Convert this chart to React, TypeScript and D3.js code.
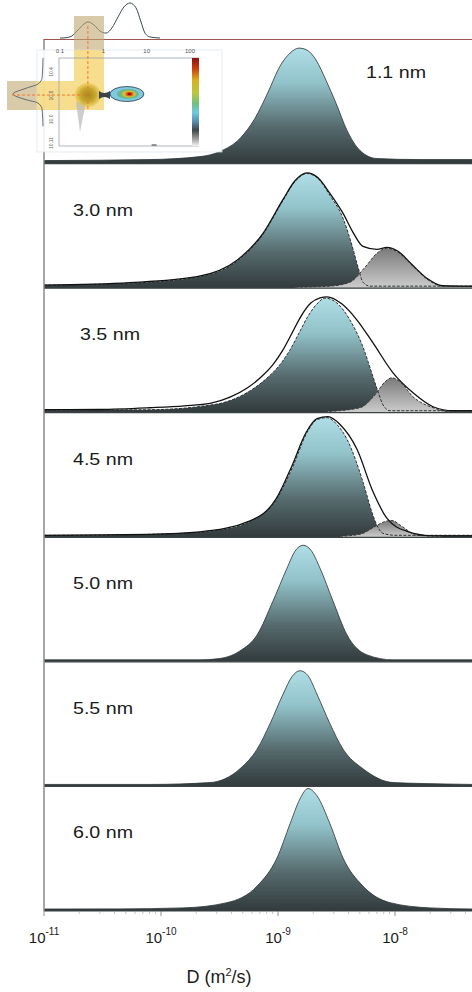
import React from "react";
import * as d3 from "d3";

// panel labels (particle size), top to bottom
const sizes = ["1.1 nm", "3.0 nm", "3.5 nm", "4.5 nm", "5.0 nm", "5.5 nm", "6.0 nm"];

// [log10 D, relative intensity]
const p11 = [[-11, 0.024], [-10.094, 0.032], [-9.667, 0.056], [-9.496, 0.097], [-9.325, 0.202], [-9.197, 0.363], [-9.085, 0.573], [-8.983, 0.782], [-8.897, 0.887], [-8.821, 0.927], [-8.752, 0.911], [-8.675, 0.831], [-8.59, 0.669], [-8.504, 0.484], [-8.41, 0.266], [-8.299, 0.105], [-8.154, 0.04], [-7.786, 0.032], [-7.342, 0.032]];

const blue30 = [[-11, 0.024], [-10.265, 0.04], [-9.692, 0.088], [-9.35, 0.216], [-9.128, 0.432], [-8.957, 0.704], [-8.855, 0.856], [-8.752, 0.92], [-8.658, 0.88], [-8.556, 0.744], [-8.444, 0.56], [-8.368, 0.344], [-8.316, 0.168], [-8.274, 0.048], [-8.214, 0.016], [-7.342, 0.016]];
const gray30 = [[-8.85, 0.008], [-8.556, 0.016], [-8.385, 0.048], [-8.256, 0.168], [-8.154, 0.28], [-8.068, 0.32], [-7.974, 0.288], [-7.855, 0.184], [-7.726, 0.072], [-7.598, 0.016], [-7.342, 0.012]];
const fit30 = [[-11, 0.024], [-10.265, 0.044], [-9.692, 0.092], [-9.35, 0.224], [-9.128, 0.44], [-8.957, 0.712], [-8.855, 0.862], [-8.752, 0.925], [-8.658, 0.886], [-8.556, 0.76], [-8.444, 0.6], [-8.359, 0.448], [-8.274, 0.336], [-8.154, 0.312], [-8.068, 0.328], [-7.974, 0.296], [-7.855, 0.19], [-7.726, 0.078], [-7.598, 0.02], [-7.342, 0.016]];

const blue35 = [[-11, 0.02], [-10.094, 0.024], [-9.521, 0.07], [-9.35, 0.12], [-9.2, 0.2], [-9.08, 0.29], [-8.98, 0.39], [-8.9, 0.5], [-8.82, 0.64], [-8.74, 0.78], [-8.67, 0.87], [-8.598, 0.92], [-8.496, 0.88], [-8.385, 0.744], [-8.274, 0.528], [-8.188, 0.288], [-8.145, 0.168], [-8.103, 0.064], [-8.043, 0.016], [-7.342, 0.016]];
const gray35 = [[-8.6, 0.008], [-8.299, 0.04], [-8.171, 0.144], [-8.085, 0.248], [-8.026, 0.28], [-7.957, 0.248], [-7.846, 0.128], [-7.675, 0.04], [-7.53, 0.008], [-7.342, 0.008]];
const fit35 = [[-11, 0.024], [-10.521, 0.026], [-10.094, 0.04], [-9.8, 0.055], [-9.58, 0.075], [-9.41, 0.125], [-9.26, 0.2], [-9.14, 0.29], [-9.04, 0.39], [-8.96, 0.5], [-8.88, 0.64], [-8.8, 0.78], [-8.72, 0.88], [-8.64, 0.922], [-8.581, 0.93], [-8.453, 0.872], [-8.325, 0.744], [-8.188, 0.56], [-8.017, 0.32], [-7.846, 0.16], [-7.675, 0.048], [-7.504, 0.016], [-7.342, 0.016]];

const blue45 = [[-11, 0.016], [-10.521, 0.016], [-10.094, 0.024], [-9.667, 0.04], [-9.521, 0.056], [-9.239, 0.127], [-9.009, 0.31], [-8.872, 0.571], [-8.752, 0.841], [-8.667, 0.944], [-8.581, 0.96], [-8.496, 0.905], [-8.41, 0.786], [-8.333, 0.611], [-8.274, 0.444], [-8.188, 0.175], [-8.154, 0.095], [-8.103, 0.032], [-8.0, 0.016], [-7.342, 0.016]];
const gray45 = [[-8.47, 0.008], [-8.299, 0.024], [-8.171, 0.087], [-8.085, 0.127], [-8.026, 0.135], [-7.94, 0.087], [-7.812, 0.016], [-7.6, 0.008]];
const fit45 = [[-11, 0.016], [-10.094, 0.024], [-9.667, 0.044], [-9.239, 0.132], [-9.015, 0.31], [-8.882, 0.571], [-8.76, 0.841], [-8.667, 0.952], [-8.573, 0.968], [-8.47, 0.905], [-8.325, 0.706], [-8.188, 0.365], [-8.068, 0.151], [-7.897, 0.048], [-7.675, 0.012], [-7.342, 0.012]];

const p50 = [[-11, 0.016], [-10.094, 0.016], [-9.667, 0.016], [-9.521, 0.024], [-9.325, 0.088], [-9.179, 0.216], [-9.043, 0.488], [-8.923, 0.752], [-8.855, 0.888], [-8.786, 0.936], [-8.718, 0.896], [-8.641, 0.752], [-8.53, 0.488], [-8.41, 0.216], [-8.239, 0.056], [-8.017, 0.016], [-7.342, 0.016]];
const p55 = [[-11, 0.016], [-10.094, 0.016], [-9.581, 0.031], [-9.325, 0.142], [-9.179, 0.299], [-9.068, 0.504], [-8.957, 0.74], [-8.88, 0.882], [-8.812, 0.929], [-8.744, 0.89], [-8.667, 0.74], [-8.556, 0.504], [-8.444, 0.299], [-8.274, 0.142], [-8.017, 0.031], [-7.786, 0.024], [-7.342, 0.016]];
const p60 = [[-11, 0.016], [-10.35, 0.017], [-9.812, 0.025], [-9.436, 0.067], [-9.179, 0.2], [-9.009, 0.425], [-8.897, 0.7], [-8.812, 0.9], [-8.744, 0.983], [-8.667, 0.925], [-8.556, 0.7], [-8.444, 0.425], [-8.274, 0.2], [-8.043, 0.067], [-7.701, 0.025], [-7.342, 0.016]];

const majorTicks = [1e-11, 1e-10, 1e-9, 1e-8];

// inset (2D DOSY map) bits
const insetTicks = [0.1, 1, 10, 100];
const insetYLabels = ["10.4", "10.8", "10.0", "10.11"];
const insetTop = [[0.1, 0], [0.111, 0], [0.17, 0.03], [0.26, 0.23], [0.358, 0.4], [0.443, 0.46], [0.61, 0.37], [0.838, 0.2], [1.15, 0.14], [1.58, 0.29], [2.18, 0.6], [3.0, 0.89], [4.12, 1.0], [5.68, 0.86], [7.4, 0.46], [9.16, 0.14], [11.9, 0.03], [20.3, 0]];
const insetSide = [[0, 0], [0.22, 0.03], [0.29, 0.17], [0.34, 0.6], [0.4, 1.0], [0.46, 0.6], [0.5, 0.17], [0.57, 0.03], [0.76, 0]];

const panels = [
  { size: sizes[0], main: p11 },
  { size: sizes[1], main: blue30, second: gray30, fit: fit30 },
  { size: sizes[2], main: blue35, second: gray35, fit: fit35 },
  { size: sizes[3], main: blue45, second: gray45, fit: fit45 },
  { size: sizes[4], main: p50 },
  { size: sizes[5], main: p55 },
  { size: sizes[6], main: p60 },
];

export default function App() {
  const width = 472;
  const height = 992;
  const left = 44;
  const top = 39;
  const bottom = 911;

  const x = d3.scaleLog().domain([1e-11, Math.pow(10, -7.342)]).range([left, width]);
  const band = d3.scaleBand().domain(sizes).range([top, bottom]);

  const minor = x.ticks().filter((t) => !majorTicks.some((m) => Math.abs(m - t) / m < 1e-6));

  // inset scales
  const ix = d3.scaleLog().domain([0.1, 100]).range([60, 190]);
  const iy = d3.scaleLinear().domain([0, insetYLabels.length - 1]).range([72, 143]);
  const topLine = d3
    .line()
    .x((d) => ix(d[0]))
    .y((d) => 38 - d[1] * 35)
    .curve(d3.curveMonotoneX);
  const sideLine = d3
    .line()
    .x((d) => 43 - d[1] * 30)
    .y((d) => 58 + d[0] * 90)
    .curve(d3.curveMonotoneY);

  return (
    <svg
      width={width}
      height={height}
      style={{ position: "absolute", left: 0, top: 0, background: "#fff" }}
      fontFamily="'Liberation Sans', Arial, sans-serif"
    >
      <defs>
        <linearGradient id="blueFill" x1="0" y1="0" x2="0" y2="1">
          <stop offset="0" stopColor="#afdde5" />
          <stop offset="0.3" stopColor="#92c3ca" />
          <stop offset="0.68" stopColor="#566b6e" />
          <stop offset="1" stopColor="#323a3c" />
        </linearGradient>
        <linearGradient id="grayFill" x1="0" y1="0" x2="0" y2="1">
          <stop offset="0" stopColor="#7a7a7a" />
          <stop offset="1" stopColor="#cdcdcd" />
        </linearGradient>
        <linearGradient id="cbar" x1="0" y1="0" x2="0" y2="1">
          <stop offset="0" stopColor="#8b1010" />
          <stop offset="0.12" stopColor="#c84010" />
          <stop offset="0.25" stopColor="#d8b020" />
          <stop offset="0.4" stopColor="#b8c840" />
          <stop offset="0.52" stopColor="#70c080" />
          <stop offset="0.62" stopColor="#70c8e0" />
          <stop offset="0.72" stopColor="#5890b0" />
          <stop offset="0.82" stopColor="#404548" />
          <stop offset="0.92" stopColor="#a0a0a0" />
          <stop offset="1" stopColor="#f4f4f4" />
        </linearGradient>
        <radialGradient id="blob" cx="0.5" cy="0.5" r="0.5">
          <stop offset="0" stopColor="#a08a18" />
          <stop offset="0.6" stopColor="#c8a830" />
          <stop offset="1" stopColor="#e8c850" stopOpacity="0.6" />
        </radialGradient>
      </defs>

      {panels.map((p, i) => {
        const y0 = band(p.size);
        const base = y0 + band.bandwidth();
        const y = d3.scaleLinear().domain([0, 1]).range([base, y0]);
        const area = d3
          .area()
          .x((d) => x(Math.pow(10, d[0])))
          .y0(base)
          .y1((d) => y(d[1]))
          .curve(d3.curveMonotoneX);
        const line = d3
          .line()
          .x((d) => x(Math.pow(10, d[0])))
          .y((d) => y(d[1]))
          .curve(d3.curveMonotoneX);
        const fitted = !!p.fit;
        const labelX = i === 0 ? 366 : i === 2 ? 80 : 73;
        const labelY = i === 0 ? y0 + 39 : y0 + 52;
        return (
          <g key={p.size}>
            <path d={area(p.main)} fill="url(#blueFill)" />
            {p.second && <path d={area(p.second)} fill="url(#grayFill)" />}
            <path
              d={line(p.main)}
              fill="none"
              stroke="#2c3234"
              strokeWidth={fitted ? 1 : 0.8}
              strokeDasharray={fitted ? "3,1.5" : undefined}
            />
            {p.second && (
              <path d={line(p.second)} fill="none" stroke="#3a3a3a" strokeWidth={1} strokeDasharray="3,1.5" />
            )}
            {p.fit && <path d={line(p.fit)} fill="none" stroke="#111" strokeWidth={1.3} />}
            <line x1={left} x2={width} y1={base} y2={base} stroke="#3c4345" strokeWidth={1.2} />
            <text x={labelX} y={labelY} fontSize={16} fill="#1a1a1a" textLength={60} lengthAdjust="spacingAndGlyphs">
              {p.size}
            </text>
          </g>
        );
      })}

      {/* frame */}
      <line x1={left} x2={left} y1={top} y2={bottom} stroke="#8a8a8a" strokeWidth={1.5} />
      <line x1={left} x2={width} y1={top + 0.5} y2={top + 0.5} stroke="#a0564c" strokeWidth={1} />

      {/* x axis */}
      <g>
        {majorTicks.map((t) => (
          <line key={"M" + t} x1={x(t)} x2={x(t)} y1={bottom} y2={bottom + 5} stroke="#777" strokeWidth={0.8} />
        ))}
        {minor.map((t) => (
          <line key={"m" + t} x1={x(t)} x2={x(t)} y1={bottom} y2={bottom + 3} stroke="#999" strokeWidth={0.6} />
        ))}
        {majorTicks.map((t) => (
          <text key={"L" + t} x={x(t)} y={943} fontSize={15} textAnchor="middle" fill="#1a1a1a">
            <tspan>10</tspan>
            <tspan dy={-8} fontSize={10}>
              {Math.round(Math.log10(t))}
            </tspan>
          </text>
        ))}
        <text x={219} y={983} fontSize={18} textAnchor="middle" fill="#1a1a1a">
          <tspan>D (m</tspan>
          <tspan dy={-7} fontSize={11}>2</tspan>
          <tspan dy={7}>/s)</tspan>
        </text>
      </g>

      {/* inset: 2D DOSY map with projections */}
      <g>
        <path d={topLine(insetTop)} fill="none" stroke="#3c4a55" strokeWidth={1} />
        <rect x={74} y={16} width={30} height={34} fill="#bfa870" opacity={0.6} />
        <rect x={7} y={81} width={30} height={29} fill="#bfa870" opacity={0.6} />
        <rect x={37} y={50} width={185} height={102} fill="#fff" opacity={0.88} stroke="#dde6ee" strokeWidth={0.8} />
        <path d="M74,50H104V110H37V81H74Z" fill="#f4cf5e" opacity={0.7} />
        <rect x={59} y={58} width={139} height={88} fill="none" stroke="#9aa4aa" strokeWidth={0.8} />
        <rect x={192} y={58} width={7} height={88} fill="url(#cbar)" />
        {insetTicks.map((t) => (
          <text key={"it" + t} x={ix(t)} y={53} fontSize={6} textAnchor="middle" fill="#555">
            {t}
          </text>
        ))}
        {insetYLabels.map((s, k) => (
          <text
            key={"iy" + k}
            transform={`translate(53,${iy(k)}) rotate(-90)`}
            fontSize={5}
            textAnchor="middle"
            fill="#666"
          >
            {s}
          </text>
        ))}
        <path d={sideLine(insetSide)} fill="none" stroke="#55606a" strokeWidth={0.9} />
        <path d="M76,102 L86,102 L80,132 Z" fill="#b8b8b8" opacity={0.7} />
        <ellipse cx={ix(0.44)} cy={95} rx={13} ry={12} fill="url(#blob)" />
        <path d="M99,91 Q104,95 110,91 L110,99 Q104,95 99,99 Z" fill="#3c4448" />
        <ellipse cx={ix(3.5)} cy={94} rx={17} ry={7.5} fill="#7fc8e0" stroke="#2c3a44" strokeWidth={0.8} />
        <ellipse cx={ix(3.7)} cy={94} rx={11} ry={5} fill="#68b890" />
        <ellipse cx={ix(3.9)} cy={94} rx={7} ry={3.5} fill="#d8c030" />
        <ellipse cx={ix(4.0)} cy={94} rx={4} ry={2.3} fill="#d86020" />
        <ellipse cx={ix(4.0)} cy={94} rx={2} ry={1.3} fill="#a01010" />
        <line x1={ix(0.44)} x2={ix(0.44)} y1={26} y2={110} stroke="#f07830" strokeWidth={1} strokeDasharray="3,2" />
        <line x1={12} x2={ix(0.44)} y1={95} y2={95} stroke="#f07830" strokeWidth={1} strokeDasharray="3,2" />
        <line x1={ix(13)} x2={ix(17)} y1={145} y2={145} stroke="#555" strokeWidth={1.2} />
      </g>
    </svg>
  );
}
